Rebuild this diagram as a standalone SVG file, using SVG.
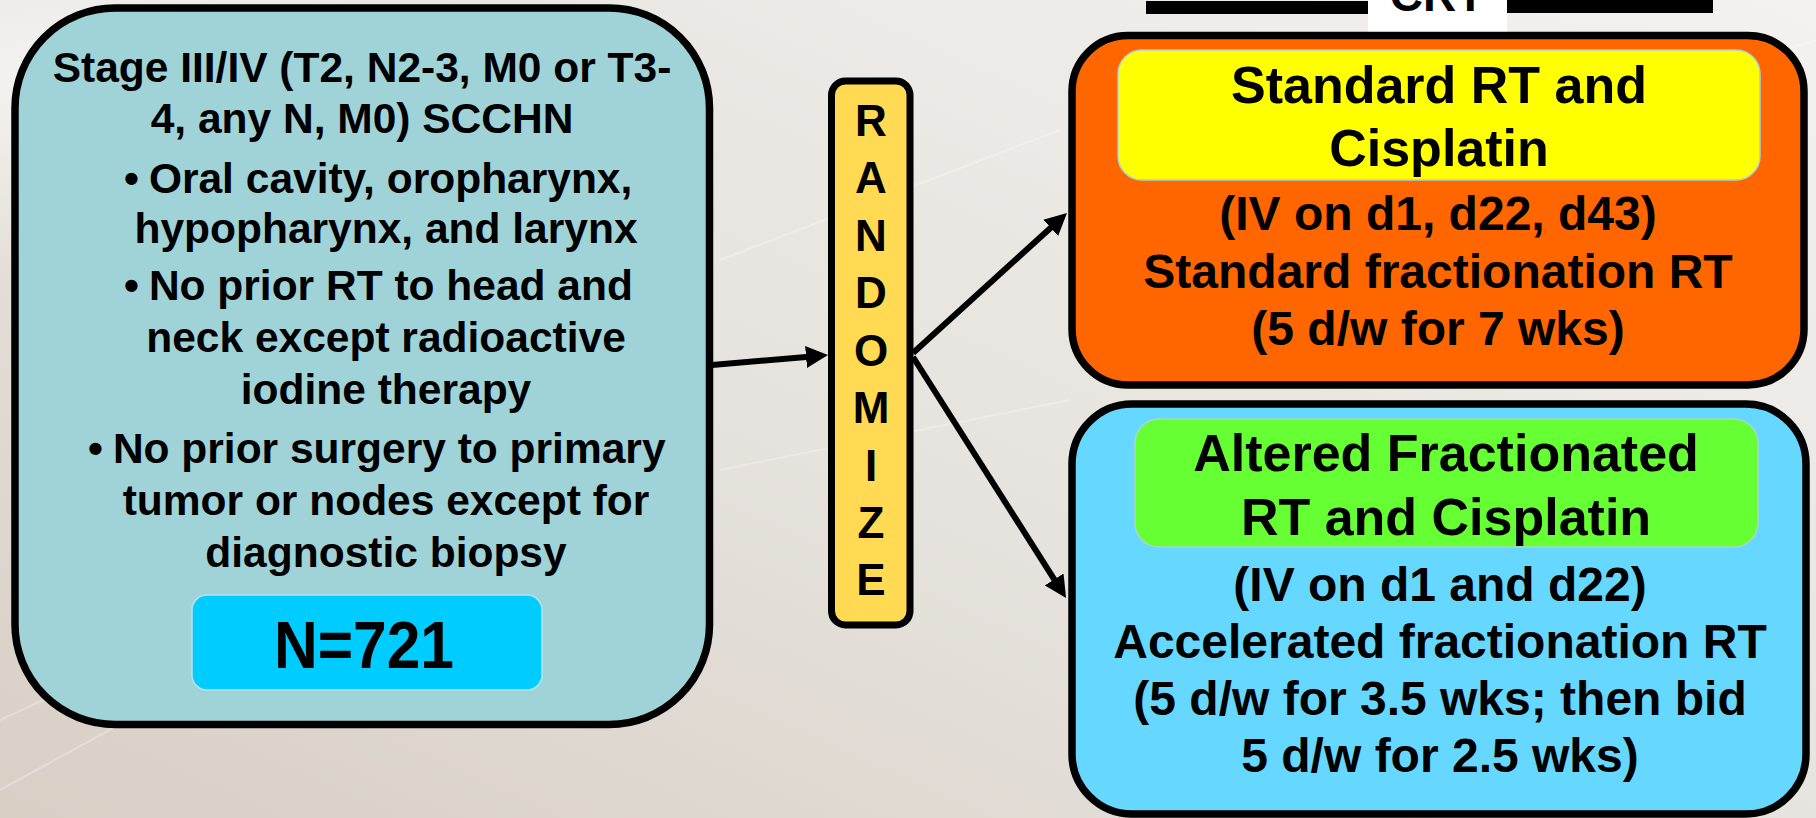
<svg xmlns="http://www.w3.org/2000/svg" width="1816" height="818" viewBox="0 0 1816 818">
  <defs>
    <linearGradient id="bg" x1="0" y1="1" x2="1" y2="0">
      <stop offset="0" stop-color="#d8cfc5"/>
      <stop offset="0.45" stop-color="#e6e2dd"/>
      <stop offset="1" stop-color="#f3f2f0"/>
    </linearGradient>
    <radialGradient id="glow" cx="0.02" cy="0.1" r="0.25">
      <stop offset="0" stop-color="#ffffff" stop-opacity="0.55"/>
      <stop offset="1" stop-color="#ffffff" stop-opacity="0"/>
    </radialGradient>
    <marker id="head" markerUnits="userSpaceOnUse" markerWidth="24" markerHeight="22" refX="12" refY="11" orient="auto">
      <path d="M0,0 L22,11 L0,22 z" fill="#000"/>
    </marker>
    <style>
      .box { stroke: #000; stroke-width: 7.5; }
      .inner { stroke-width: 1.5; }
      text { font-family: "Liberation Sans", Arial, sans-serif; font-weight: bold; fill: #000; }
      .left { font-size: 42.5px; text-anchor: middle; }
      .bul { font-size: 42.5px; }
      .title { font-size: 52px; text-anchor: middle; }
      .body { font-size: 48px; text-anchor: middle; }
      .rand { font-size: 44px; text-anchor: middle; }
      .conn { fill: none; stroke: #000; stroke-width: 6; marker-end: url(#head); }
      .streak { stroke: #ffffff; stroke-opacity: 0.28; stroke-width: 2; fill: none; }
    </style>
  </defs>

  <!-- backdrop -->
  <rect width="1816" height="818" fill="url(#bg)"/>
  <rect width="1816" height="818" fill="url(#glow)"/>
  <g id="streaks">
    <path class="streak" d="M0,790 L420,560"/>
    <path class="streak" d="M0,720 L260,600"/>
    <path class="streak" d="M720,260 L1060,130"/>
    <path class="streak" d="M720,470 L1070,400"/>
    <path class="streak" d="M1560,120 L1816,40"/>
  </g>

  <!-- CRT heading -->
  <g id="heading">
    <rect x="1146" y="1" width="222" height="13" fill="#000"/>
    <rect x="1507" y="0" width="206" height="13" fill="#000"/>
    <rect x="1368" y="-2" width="139" height="35" fill="#ffffff"/>
    <text x="1437" y="11" style="font-size:46px" text-anchor="middle">CRT</text>
  </g>

  <!-- eligibility -->
  <g id="eligibility">
    <rect class="box" x="15" y="8" width="694.5" height="716.5" rx="100" ry="100" fill="#9fd3d8"/>
    <text class="left" x="362" y="82">Stage III/IV (T2, N2-3, M0 or T3-</text>
    <text class="left" x="362" y="133">4, any N, M0) SCCHN</text>
    <text class="bul" x="124" y="193"><tspan>•</tspan><tspan dx="10">Oral cavity, oropharynx,</tspan></text>
    <text class="left" x="386" y="243">hypopharynx, and larynx</text>
    <text class="bul" x="124" y="300"><tspan>•</tspan><tspan dx="10">No prior RT to head and</tspan></text>
    <text class="left" x="386" y="352">neck except radioactive</text>
    <text class="left" x="386" y="404">iodine therapy</text>
    <text class="bul" x="88" y="463"><tspan>•</tspan><tspan dx="10">No prior surgery to primary</tspan></text>
    <text class="left" x="386" y="515">tumor or nodes except for</text>
    <text class="left" x="386" y="567">diagnostic biopsy</text>
  </g>

  <g id="sample-size">
    <rect class="inner" x="192" y="595" width="350" height="95" rx="15" fill="#00ccff" stroke="#b8e2ea"/>
    <text x="364" y="668" style="font-size:66px" text-anchor="middle" textLength="180" lengthAdjust="spacingAndGlyphs">N=721</text>
  </g>

  <!-- randomization bar -->
  <g id="randomize">
    <rect x="831.5" y="81" width="78.5" height="544" rx="14" fill="#ffda52" stroke="#000" stroke-width="7"/>
    <text class="rand" x="871" y="136">R</text>
    <text class="rand" x="871" y="193">A</text>
    <text class="rand" x="871" y="251">N</text>
    <text class="rand" x="871" y="308">D</text>
    <text class="rand" x="871" y="366">O</text>
    <text class="rand" x="871" y="423">M</text>
    <text class="rand" x="871" y="481">I</text>
    <text class="rand" x="871" y="538">Z</text>
    <text class="rand" x="871" y="595">E</text>
  </g>

  <!-- standard arm -->
  <g id="standard-arm">
    <rect class="box" x="1072" y="35.5" width="732" height="349.5" rx="56" fill="#ff6600"/>
    <rect class="inner" x="1118" y="50" width="642" height="130" rx="24" fill="#ffff00" stroke="#a9d2dc"/>
    <text class="title" x="1439" y="103">Standard RT and</text>
    <text class="title" x="1439" y="166">Cisplatin</text>
    <text class="body" x="1438" y="230">(IV on d1, d22, d43)</text>
    <text class="body" x="1438" y="288">Standard fractionation RT</text>
    <text class="body" x="1438" y="345">(5 d/w for 7 wks)</text>
  </g>

  <!-- altered fractionation arm -->
  <g id="altered-arm">
    <rect class="box" x="1072" y="404" width="734" height="410" rx="60" fill="#66d7ff"/>
    <rect class="inner" x="1135" y="419" width="623" height="128" rx="24" fill="#66ff33" stroke="#a8d8c8"/>
    <text class="title" x="1446" y="471">Altered Fractionated</text>
    <text class="title" x="1446" y="535">RT and Cisplatin</text>
    <text class="body" x="1440" y="601">(IV on d1 and d22)</text>
    <text class="body" x="1440" y="658">Accelerated fractionation RT</text>
    <text class="body" x="1440" y="715">(5 d/w for 3.5 wks; then bid</text>
    <text class="body" x="1440" y="772">5 d/w for 2.5 wks)</text>
  </g>

  <!-- connectors -->
  <g id="connectors">
    <path class="conn" d="M712,365 L818,355.9"/>
    <path class="conn" d="M913,353 L1059.6,219.7"/>
    <path class="conn" d="M913,357 L1060.7,589.6"/>
  </g>
</svg>
